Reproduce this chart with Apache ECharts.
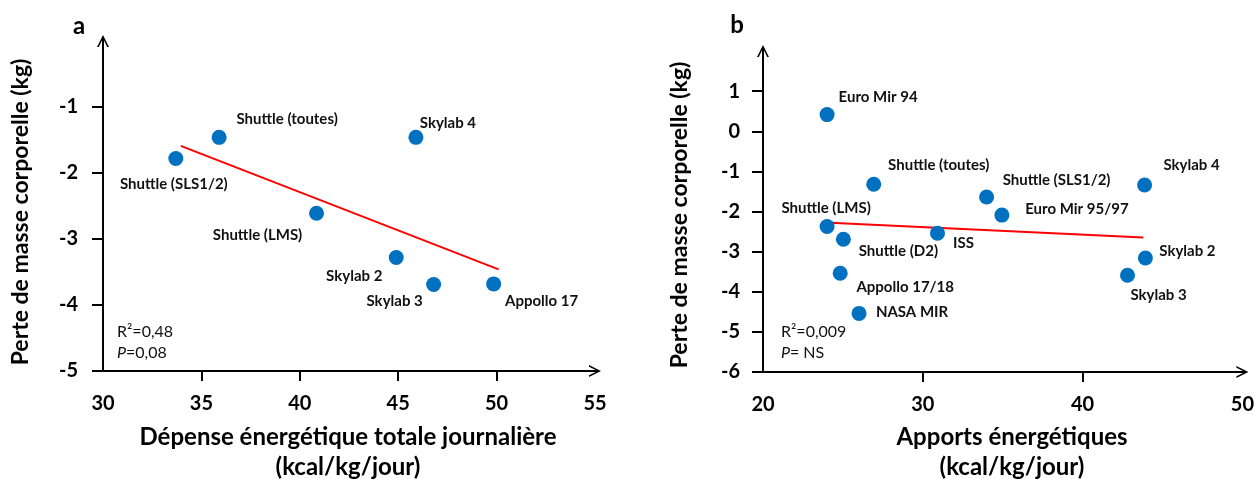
<!DOCTYPE html>
<html>
<head>
<meta charset="utf-8">
<script src="https://cdn.jsdelivr.net/npm/echarts@6.0.0/dist/echarts.min.js"></script>
<style>
html,body{margin:0;padding:0;background:#fff;}
#c{width:1257px;height:479px;}
</style>
</head>
<body>
<div id="c"></div>
<script>
// ---------- Panel a data ----------
const namesA = ['Shuttle (SLS1/2)', 'Shuttle (toutes)', 'Shuttle (LMS)', 'Skylab 4', 'Skylab 2', 'Skylab 3', 'Appollo 17'];
const depenseA = [33.7, 35.9, 40.85, 45.9, 44.9, 46.8, 49.85];
const perteA = [-1.78, -1.46, -2.61, -1.46, -3.28, -3.69, -3.68];
const trendXA = [33.95, 50.1];
const trendYA = [-1.59, -3.46];
const xTicksA = [30, 35, 40, 45, 50, 55];
const yTicksA = [-5, -4, -3, -2, -1];
const statsA = ['R²=0,48', 'P=0,08'];

// ---------- Panel b data ----------
const namesB = ['Euro Mir 94', 'Shuttle (toutes)', 'Shuttle (SLS1/2)', 'Euro Mir 95/97', 'Shuttle (LMS)', 'Shuttle (D2)', 'ISS', 'Appollo 17/18', 'NASA MIR', 'Skylab 4', 'Skylab 2', 'Skylab 3'];
const apportsB = [24.01, 26.93, 33.99, 34.95, 24.01, 25.03, 30.92, 24.83, 26.01, 43.88, 43.93, 42.81];
const perteB = [0.415, -1.32, -1.64, -2.09, -2.375, -2.69, -2.54, -3.54, -4.54, -1.34, -3.16, -3.59];
const trendXB = [24.2, 43.8];
const trendYB = [-2.28, -2.65];
const xTicksB = [20, 30, 40, 50];
const yTicksB = [-6, -5, -4, -3, -2, -1, 0, 1];
const statsB = ['R²=0,009', 'P= NS'];

// ---------- layout (label offsets in px, not data) ----------
const labelOffA = [[-2, 26], [68, -18], [-59, 22], [32, -14], [-42, 19], [-39, 17], [48, 17]];
const labelOffB = [[51, -17], [65, -19], [70, -17], [75, -6], [-1, -18], [55, 12], [26, 10], [65, 14], [53, -1], [47, -20], [42, -7], [31, 20]];

const FONT = 'Lato, "Open Sans", "DejaVu Sans", sans-serif';
const BLUE = '#0070C0';
const arrowPath = 'path://M0,10 L5,0 L10,10 L8.5,10 L5,2.8 L1.5,10 Z M4.3,1.5 L5.7,1.5 L5.7,10 L4.3,10 Z';

function axisX(gi, min, max, interval, tickVals, margin) {
  return {
    type: 'value', gridIndex: gi, min: min, max: max, interval: interval,
    splitLine: {show: false},
    axisLine: {show: true, onZero: false, lineStyle: {color: '#000', width: 2},
      symbol: ['none', arrowPath], symbolSize: [12, 12]},
    axisTick: {show: true, length: 10, inside: false, lineStyle: {color: '#000', width: 2}, customValues: tickVals},
    axisLabel: {show: true, margin: margin, color: '#000', fontSize: 20, fontWeight: 'bold', fontFamily: FONT}
  };
}
function axisY(gi, min, max, tickVals, margin) {
  return {
    type: 'value', gridIndex: gi, min: min, max: max, interval: 1,
    splitLine: {show: false},
    axisLine: {show: true, onZero: false, lineStyle: {color: '#000', width: 2},
      symbol: ['none', arrowPath], symbolSize: [12, 12]},
    axisTick: {show: true, length: 11, lineStyle: {color: '#000', width: 2}, customValues: tickVals},
    axisLabel: {show: true, margin: margin, color: '#000', fontSize: 20, fontWeight: 'bold', fontFamily: FONT,
      customValues: tickVals}
  };
}

function scatterData(xs, ys, names, offs) {
  return xs.map((x, i) => ({
    value: [x, ys[i]], name: names[i],
    label: {offset: offs[i]}
  }));
}

const labelStyle = {
  show: true, position: 'inside', formatter: '{b}', color: '#111',
  fontSize: 15, fontWeight: 'bold', fontFamily: FONT, align: 'center', verticalAlign: 'middle'
};

const TITLE_FONT = 'bold 24px ' + FONT;
const chart = echarts.init(document.getElementById('c'), null, {renderer: 'canvas'});
chart.setOption({
  animation: false,
  backgroundColor: '#fff',
  grid: [
    {left: 103, top: 41, width: 492, height: 330},
    {left: 763, top: 51, width: 489, height: 321}
  ],
  xAxis: [
    axisX(0, xTicksA[0], xTicksA[xTicksA.length - 1], 5, xTicksA.slice(1, -1), 23),
    axisX(1, xTicksB[0], xTicksB[xTicksB.length - 1], 10, xTicksB.slice(1, -1), 23)
  ],
  yAxis: [
    axisY(0, yTicksA[0], 0, yTicksA, 25),
    axisY(1, yTicksB[0], 2, yTicksB, 23)
  ],
  series: [
    {type: 'line', xAxisIndex: 0, yAxisIndex: 0, data: trendXA.map((x, i) => [x, trendYA[i]]),
      symbol: 'none', lineStyle: {color: '#FF0000', width: 2}, z: 1},
    {type: 'scatter', xAxisIndex: 0, yAxisIndex: 0, symbolSize: 15,
      itemStyle: {color: BLUE, opacity: 1}, label: labelStyle,
      data: scatterData(depenseA, perteA, namesA, labelOffA), z: 2},
    {type: 'line', xAxisIndex: 1, yAxisIndex: 1, data: trendXB.map((x, i) => [x, trendYB[i]]),
      symbol: 'none', lineStyle: {color: '#FF0000', width: 2}, z: 1},
    {type: 'scatter', xAxisIndex: 1, yAxisIndex: 1, symbolSize: 15,
      itemStyle: {color: BLUE, opacity: 1}, label: labelStyle,
      data: scatterData(apportsB, perteB, namesB, labelOffB), z: 2}
  ],
  graphic: [
    {type: 'text', x: 79, y: 26, style: {text: 'a', font: 'bold 24px ' + FONT, fill: '#000', align: 'center', verticalAlign: 'middle'}},
    {type: 'text', x: 737, y: 25, style: {text: 'b', font: 'bold 24px ' + FONT, fill: '#000', align: 'center', verticalAlign: 'middle'}},
    {type: 'text', x: 21, y: 212, rotation: Math.PI / 2,
      style: {text: 'Perte de masse corporelle (kg)', font: 'bold 23px ' + FONT, fill: '#000', align: 'center', verticalAlign: 'middle'}},
    {type: 'text', x: 680, y: 215, rotation: Math.PI / 2,
      style: {text: 'Perte de masse corporelle (kg)', font: 'bold 23px ' + FONT, fill: '#000', align: 'center', verticalAlign: 'middle'}},
    {type: 'text', x: 348, y: 437,
      style: {text: 'Dépense énergétique totale journalière', font: TITLE_FONT, fill: '#000', align: 'center', verticalAlign: 'middle'}},
    {type: 'text', x: 348, y: 467,
      style: {text: '(kcal/kg/jour)', font: TITLE_FONT, fill: '#000', align: 'center', verticalAlign: 'middle'}},
    {type: 'text', x: 1012, y: 437,
      style: {text: 'Apports énergétiques', font: TITLE_FONT, fill: '#000', align: 'center', verticalAlign: 'middle'}},
    {type: 'text', x: 1012, y: 467,
      style: {text: '(kcal/kg/jour)', font: TITLE_FONT, fill: '#000', align: 'center', verticalAlign: 'middle'}},
    {type: 'text', x: 117, y: 332,
      style: {text: statsA[0], font: '16px ' + FONT, fill: '#111', align: 'left', verticalAlign: 'middle'}},
    {type: 'text', x: 117, y: 353,
      style: {text: '{i|' + statsA[1].charAt(0) + '}' + statsA[1].slice(1), font: '16px ' + FONT, fill: '#111', align: 'left', verticalAlign: 'middle',
        rich: {i: {fontStyle: 'italic', fontSize: 16, fontFamily: FONT, fill: '#111'}}}},
    {type: 'text', x: 781, y: 332,
      style: {text: statsB[0], font: '16px ' + FONT, fill: '#111', align: 'left', verticalAlign: 'middle'}},
    {type: 'text', x: 781, y: 353,
      style: {text: '{i|' + statsB[1].charAt(0) + '}' + statsB[1].slice(1), font: '16px ' + FONT, fill: '#111', align: 'left', verticalAlign: 'middle',
        rich: {i: {fontStyle: 'italic', fontSize: 16, fontFamily: FONT, fill: '#111'}}}}
  ]
});
</script>
</body>
</html>
